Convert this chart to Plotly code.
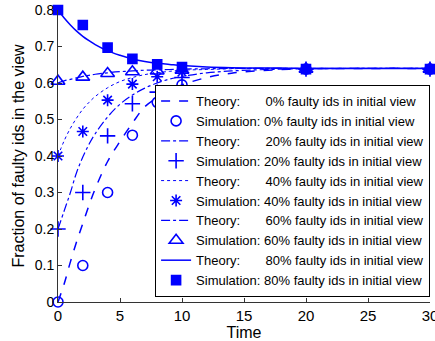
import plotly.graph_objects as go

# Simulation sample times and values
t_sim = [0, 2, 4, 6, 8, 10, 20, 30]
sim_0 = [0.0, 0.10, 0.30, 0.457, 0.547, 0.595, 0.638, 0.638]
sim_20 = [0.2, 0.30, 0.455, 0.543, 0.575, 0.615, 0.638, 0.638]
sim_40 = [0.4, 0.467, 0.553, 0.597, 0.617, 0.63, 0.638, 0.638]
sim_60 = [0.605, 0.616, 0.626, 0.631, 0.633, 0.635, 0.638, 0.638]
sim_80 = [0.80, 0.759, 0.697, 0.666, 0.651, 0.644, 0.638, 0.638]

# Theory curves
t_th = [0, 0.5, 1, 1.5, 2, 2.5, 3, 4, 5, 6, 7, 8, 9, 10, 12, 14, 16, 18, 20, 25, 30]
th_0 = [0.0, 0.05, 0.11, 0.165, 0.215, 0.265, 0.31, 0.385, 0.44, 0.49, 0.535, 0.56,
        0.58, 0.595, 0.615, 0.627, 0.633, 0.637, 0.639, 0.64, 0.64]
th_20 = [0.2, 0.25, 0.30, 0.355, 0.397, 0.432, 0.461, 0.507, 0.542, 0.567, 0.586, 0.60,
         0.611, 0.618, 0.628, 0.633, 0.636, 0.638, 0.639, 0.64, 0.64]
th_40 = [0.4, 0.442, 0.476, 0.504, 0.528, 0.547, 0.563, 0.587, 0.604, 0.615, 0.623, 0.628,
         0.632, 0.635, 0.637, 0.639, 0.64, 0.64, 0.64, 0.64, 0.64]
th_60 = [0.6, 0.606, 0.610, 0.614, 0.618, 0.621, 0.624, 0.628, 0.631, 0.633, 0.635, 0.636,
         0.637, 0.638, 0.639, 0.64, 0.64, 0.64, 0.64, 0.64, 0.64]
th_80 = [0.8, 0.778, 0.759, 0.742, 0.728, 0.716, 0.705, 0.688, 0.676, 0.666, 0.659, 0.654,
         0.651, 0.648, 0.644, 0.642, 0.641, 0.641, 0.64, 0.64, 0.64]

x_ticks = [0, 5, 10, 15, 20, 25, 30]
y_ticks = [0, 0.1, 0.2, 0.3, 0.4, 0.5, 0.6, 0.7, 0.8]
y_ticktext = ["0", "0.1", "0.2", "0.3", "0.4", "0.5", "0.6", "0.7", "0.8"]

pcts = ["0%", "20%", "40%", "60%", "80%"]
theories = [th_0, th_20, th_40, th_60, th_80]
sims = [sim_0, sim_20, sim_40, sim_60, sim_80]

BLUE = "rgb(0,0,255)"
dashes = ["dash", "dashdot", "dot", "dashdot", "solid"]
widths = [1.5, 1.2, 1.0, 1.2, 1.5]
symbols = ["circle-open", "cross-thin-open", "asterisk-open", "triangle-up-open", "square"]
sizes = [10, 11, 10, 12, 9]

SP = "\u00a0"
fig = go.Figure()
for i, p in enumerate(pcts):
    fig.add_trace(go.Scatter(
        x=t_th, y=theories[i], mode="lines",
        line=dict(color=BLUE, dash=dashes[i], width=widths[i], shape="spline"),
        name="Theory:" + SP * 7 + p + " faulty ids in initial view",
        cliponaxis=False,
    ))
    mk = dict(symbol=symbols[i], size=sizes[i], color=BLUE,
              line=dict(color=BLUE, width=1.6))
    fig.add_trace(go.Scatter(
        x=t_sim, y=sims[i], mode="markers", marker=mk,
        name="Simulation:" + SP + p + " faulty ids in initial view",
        cliponaxis=False,
    ))

fig.update_layout(
    width=435, height=341,
    margin=dict(l=58, r=5, t=10, b=39, autoexpand=False),
    paper_bgcolor="white", plot_bgcolor="white",
    font=dict(family="Liberation Sans, Arial, sans-serif", color="black", size=13),
    showlegend=True,
    legend=dict(
        x=0.261, y=0.017, xanchor="left", yanchor="bottom",
        bgcolor="white", bordercolor="black", borderwidth=1,
        font=dict(size=13), tracegroupgap=0, itemwidth=30,
    ),
    xaxis=dict(
        range=[0, 30], tickvals=x_ticks, automargin=False,
        ticks="inside", ticklen=4, tickcolor="#333", showgrid=False, zeroline=False,
        showline=True, linecolor="#333", linewidth=1,
        tickfont=dict(size=15), ticklabeloverflow="allow",
        title=dict(text="Time", font=dict(size=16), standoff=2),
    ),
    yaxis=dict(
        range=[0, 0.8], tickvals=y_ticks, ticktext=y_ticktext, automargin=False,
        ticks="inside", ticklen=4, tickcolor="#333", showgrid=False, zeroline=False,
        showline=True, linecolor="#333", linewidth=1,
        tickfont=dict(size=14),
        title=dict(text="Fraction of faulty ids in the view", font=dict(size=16), standoff=6),
    ),
)

fig.write_html("out.html")
